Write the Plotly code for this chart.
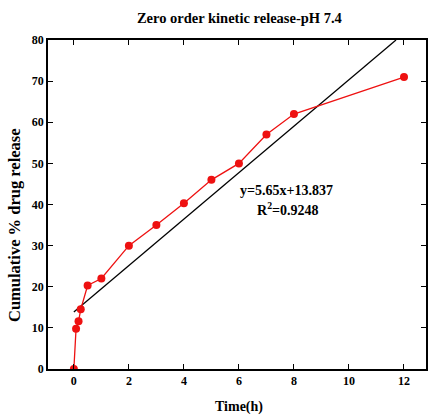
import plotly.graph_objects as go

time_h = [0, 0.08, 0.17, 0.25, 0.5, 1, 2, 3, 4, 5, 6, 7, 8, 12]
release = [0, 9.8, 11.6, 14.5, 20.3, 22, 30, 35, 40.3, 46, 50, 57, 62, 71]
slope = 5.65
intercept = 13.837
fit_x = [0, 11.71]
fit_y = [slope * x + intercept for x in fit_x]
x_ticks = [0, 2, 4, 6, 8, 10, 12]
y_ticks = [0, 10, 20, 30, 40, 50, 60, 70, 80]

FONT = "Liberation Serif"

fig = go.Figure()
fig.add_trace(go.Scatter(x=fit_x, y=fit_y, mode="lines",
                         line=dict(color="black", width=1.3), showlegend=False))
fig.add_trace(go.Scatter(x=time_h, y=release, mode="lines+markers",
                         line=dict(color="#ee1111", width=1.3),
                         marker=dict(color="#ee1111", size=8), showlegend=False))

axis_common = dict(showline=True, linecolor="black", linewidth=1.5, mirror="ticks",
                   ticks="inside", ticklen=5, tickwidth=1.3, tickcolor="black",
                   showgrid=False, zeroline=False,
                   tickfont=dict(family=FONT, size=12, color="black", weight="bold"))

fig.update_xaxes(range=[-0.94, 12.8], tickvals=x_ticks, **axis_common)
fig.update_yaxes(range=[0, 80], tickvals=y_ticks, **axis_common)

fig.update_layout(
    width=429, height=417,
    margin=dict(l=48, r=1, t=40, b=48),
    plot_bgcolor="white", paper_bgcolor="white",
    font=dict(family=FONT, color="black"),
    title=dict(text="<b>Zero order kinetic release-pH 7.4</b>", x=0.558, xanchor="center",
               y=1 - 18 / 417, yanchor="middle", font=dict(family=FONT, size=14.5)),
    annotations=[
        dict(text="<b>Time(h)</b>", xref="paper", yref="paper", x=0.505, y=-0.115,
             xanchor="center", yanchor="middle", showarrow=False,
             font=dict(family=FONT, size=14)),
        dict(text="<b>Cumulative % drug release</b>", xref="paper", yref="paper",
             x=-0.087, y=0.438, xanchor="center", yanchor="middle", textangle=-90,
             showarrow=False, font=dict(family=FONT, size=16.5)),
        dict(text="<b>y=5.65x+13.837</b>", xref="x", yref="y", x=7.74, y=43.4,
             xanchor="center", yanchor="middle", showarrow=False,
             font=dict(family=FONT, size=14)),
        dict(text="<b>R<sup>2</sup>=0.9248</b>", xref="x", yref="y", x=7.77, y=39.0,
             xanchor="center", yanchor="middle", showarrow=False,
             font=dict(family=FONT, size=14)),
    ],
)

fig.write_html("out.html")
